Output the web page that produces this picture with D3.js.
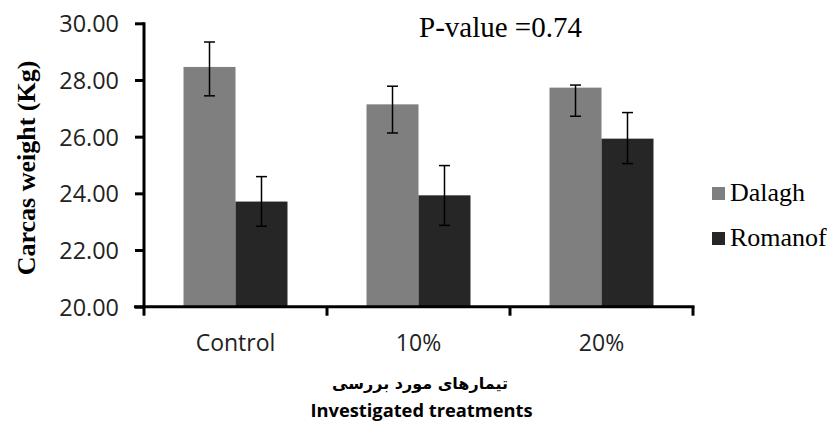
<!DOCTYPE html>
<html>
<head>
<meta charset="utf-8">
<script src="https://cdn.jsdelivr.net/npm/d3@7"></script>
<style>
  body { margin: 0; background: #fff; }
</style>
</head>
<body>
<div id="chart"></div>
<script>
// values
var categories = ["Control", "10%", "20%"]
var seriesNames = ["Dalagh", "Romanof"]
var dalagh = [28.46, 27.14, 27.73]
var romanof = [23.71, 23.93, 25.93]
// error bar ends (upper / lower)
var dalaghHi = [29.34, 27.78, 27.82]
var dalaghLo = [27.44, 26.13, 26.72]
var romanofHi = [24.59, 24.98, 26.85]
var romanofLo = [22.84, 22.87, 25.05]
var yTicks = [20, 22, 24, 26, 28, 30]

var colors = {"Dalagh": "#7f7f7f", "Romanof": "#262626"}

var W = 833, H = 421
// plot area edges (don't call these top/left, window.top is read only)
var plotL = 144, plotR = 693, plotT = 23.3, plotB = 306.7

var svg = d3.select("#chart").append("svg")
    .attr("width", W)
    .attr("height", H)

var x = d3.scaleBand().domain(categories).range([plotL, plotR])
var xs = d3.scaleBand().domain(seriesNames).range([0, x.bandwidth()]).paddingOuter(0.76)
var y = d3.scaleLinear().domain([20, 30]).range([plotB, plotT])

var rows = []
for (var i = 0; i < categories.length; i++) {
    rows.push({cat: categories[i], name: "Dalagh", v: dalagh[i], hi: dalaghHi[i], lo: dalaghLo[i]})
    rows.push({cat: categories[i], name: "Romanof", v: romanof[i], hi: romanofHi[i], lo: romanofLo[i]})
}

// bars
svg.selectAll("rect.bar")
    .data(rows)
    .enter()
    .append("rect")
    .attr("class", "bar")
    .attr("x", d => x(d.cat) + xs(d.name))
    .attr("width", xs.bandwidth())
    .attr("y", d => y(d.v))
    .attr("height", d => y(20) - y(d.v))
    .attr("fill", d => colors[d.name])

// error bars
var eb = svg.selectAll("g.err")
    .data(rows)
    .enter()
    .append("g")
    .attr("class", "err")
    .attr("stroke", "#000")
    .attr("stroke-width", 1.5)
    .attr("transform", d => "translate(" + (x(d.cat) + xs(d.name) + xs.bandwidth() / 2) + ",0)")

eb.append("line").attr("y1", d => y(d.hi)).attr("y2", d => y(d.lo))
eb.append("line").attr("x1", -5.5).attr("x2", 5.5).attr("y1", d => y(d.hi)).attr("y2", d => y(d.hi))
eb.append("line").attr("x1", -5.5).attr("x2", 5.5).attr("y1", d => y(d.lo)).attr("y2", d => y(d.lo))

// y axis
var yAxis = svg.append("g")
    .attr("transform", "translate(" + plotL + ",0)")
    .call(d3.axisLeft(y).tickValues(yTicks).tickFormat(d3.format(".2f")).tickSize(9).tickPadding(16))
yAxis.select(".domain").attr("stroke", "#000").attr("stroke-width", 3)
    .attr("d", "M0," + (plotT - 1) + "V" + plotB)
yAxis.selectAll(".tick line").attr("stroke", "#000").attr("stroke-width", 3)
yAxis.selectAll(".tick text")
    .attr("font-family", "'Open Sans', sans-serif")
    .attr("font-size", "23.4px")
    .attr("fill", "#222")
    .attr("dy", "0.36em")

// x axis, ticks sit on the band edges
var xAxisG = svg.append("g")
xAxisG.append("line")
    .attr("x1", plotL - 10).attr("x2", plotR + 1.5)
    .attr("y1", plotB).attr("y2", plotB)
    .attr("stroke", "#000").attr("stroke-width", 3)
var edges = categories.map(c => x(c)).concat([plotR])
xAxisG.selectAll("line.xt")
    .data(edges)
    .enter()
    .append("line")
    .attr("class", "xt")
    .attr("x1", d => d).attr("x2", d => d)
    .attr("y1", plotB).attr("y2", plotB + 9)
    .attr("stroke", "#000").attr("stroke-width", 3)
xAxisG.selectAll("text.xl")
    .data(categories)
    .enter()
    .append("text")
    .attr("class", "xl")
    .attr("x", d => x(d) + x.bandwidth() / 2)
    .attr("y", 351)
    .attr("text-anchor", "middle")
    .attr("font-family", "'Open Sans', sans-serif")
    .attr("font-size", "23px")
    .attr("fill", "#222")
    .text(d => d)

// axis titles
svg.append("text")
    .attr("transform", "translate(35,168) rotate(-90)")
    .attr("text-anchor", "middle")
    .attr("font-family", "'Liberation Serif', 'Times New Roman', serif")
    .attr("font-weight", "bold")
    .attr("font-size", "26px")
    .attr("fill", "#000")
    .text("Carcas weight (Kg)")

svg.append("text")
    .attr("x", 420)
    .attr("y", 389)
    .attr("text-anchor", "middle")
    .attr("direction", "rtl")
    .attr("font-family", "'DejaVu Sans', sans-serif")
    .attr("font-weight", "bold")
    .attr("font-size", "16px")
    .attr("fill", "#000")
    .text("تیمارهای مورد بررسی")

svg.append("text")
    .attr("x", 421.5)
    .attr("y", 417)
    .attr("text-anchor", "middle")
    .attr("font-family", "'Open Sans', sans-serif")
    .attr("font-weight", "bold")
    .attr("font-size", "18.3px")
    .attr("fill", "#000")
    .text("Investigated treatments")

// p-value note
svg.append("text")
    .attr("x", 419)
    .attr("y", 37)
    .attr("font-family", "'Liberation Serif', 'Times New Roman', serif")
    .attr("font-size", "29px")
    .attr("fill", "#000")
    .text("P-value =0.74")

// legend
var legend = svg.selectAll("g.legend")
    .data(seriesNames)
    .enter()
    .append("g")
    .attr("class", "legend")
    .attr("transform", (d, i) => "translate(712," + (187 + i * 45) + ")")
legend.append("rect")
    .attr("width", 13).attr("height", 13)
    .attr("fill", d => colors[d])
legend.append("text")
    .attr("x", 18)
    .attr("y", 14)
    .attr("font-family", "'Liberation Serif', 'Times New Roman', serif")
    .attr("font-size", "26px")
    .attr("fill", "#000")
    .text(d => d)
</script>
</body>
</html>
